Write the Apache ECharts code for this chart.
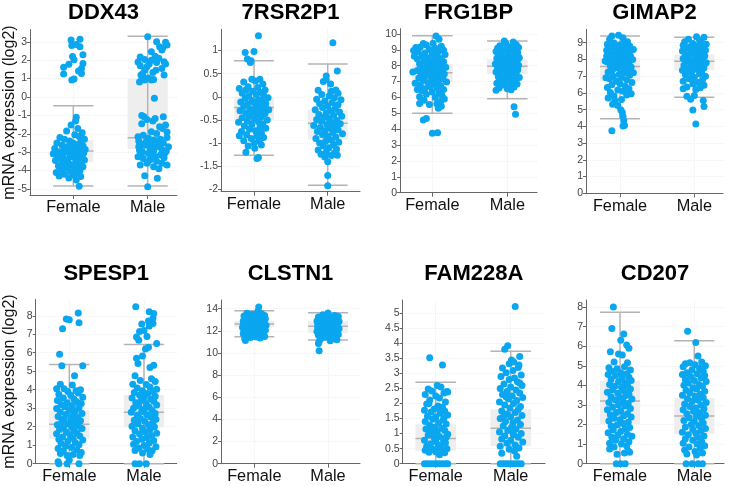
<!DOCTYPE html>
<html><head><meta charset="utf-8">
<script src="https://cdn.jsdelivr.net/npm/echarts@6/dist/echarts.min.js"></script>
<style>html,body{margin:0;padding:0;background:#fff}#c{width:731px;height:486px}</style>
</head><body><div id="c"></div>
<script>
// ---------------- DATA ----------------
const categories = ['Female', 'Male'];
const genes = ['DDX43', '7RSR2P1', 'FRG1BP', 'GIMAP2', 'SPESP1', 'CLSTN1', 'FAM228A', 'CD207'];
const yLabel = 'mRNA expression (log2)';

// tick values per panel
const DDX43_ticks = [-5, -4, -3, -2, -1, 0, 1, 2, 3];
const R7RSR2P1_ticks = [-2, -1.5, -1, -0.5, 0, 0.5, 1];
const FRG1BP_ticks = [0, 1, 2, 3, 4, 5, 6, 7, 8, 9, 10];
const GIMAP2_ticks = [0, 1, 2, 3, 4, 5, 6, 7, 8, 9];
const SPESP1_ticks = [0, 1, 2, 3, 4, 5, 6, 7, 8];
const CLSTN1_ticks = [0, 2, 4, 6, 8, 10, 12, 14];
const FAM228A_ticks = [0, 0.5, 1, 1.5, 2, 2.5, 3, 3.5, 4, 4.5, 5];
const CD207_ticks = [0, 1, 2, 3, 4, 5, 6, 7, 8];

// box statistics [min, q1, median, q3, max] for Female, Male
const DDX43_box = [[-4.84, -3.55, -2.94, -2.34, -0.48], [-4.84, -2.83, -2.22, 1.0, 3.3]];
const R7RSR2P1_box = [[-1.26, -0.5, -0.23, 0.0, 0.78], [-1.91, -0.92, -0.57, -0.28, 0.71]];
const FRG1BP_box = [[5.0, 6.94, 7.56, 8.1, 9.89], [5.92, 7.48, 7.96, 8.4, 9.56]];
const GIMAP2_box = [[4.46, 6.68, 7.57, 8.07, 9.4], [5.74, 7.35, 7.89, 8.3, 9.32]];
const SPESP1_box = [[0, 1.32, 2.13, 2.88, 5.37], [0, 1.97, 2.78, 3.71, 6.45]];
const CLSTN1_box = [[11.47, 12.32, 12.62, 12.89, 13.82], [11.17, 11.8, 12.42, 12.85, 13.64]];
const FAM228A_box = [[0, 0.43, 0.84, 1.31, 2.71], [0, 0.59, 1.18, 1.81, 3.74]];
const CD207_box = [[0, 2.03, 3.2, 4.24, 7.74], [0, 1.52, 2.43, 3.35, 6.28]];

// points: [jitter offset from category, value]
const DDX43_F = [[-0.03,3.1],[0.09,3.14],[-0.02,2.8],[0.04,2.86],[0.09,2.73],[0.13,2.3],[-0.01,2.2],[0.01,2.02],[-0.06,1.78],[-0.13,1.62],[0.13,1.82],[0.11,1.55],[0.07,1.42],[-0.13,1.25],[0.11,1.28],[-0.02,0.92],[0.01,0.98],
[0.04,-1.1],[0.03,-1.3],[-0.03,-1.52],[0.06,-1.72],[-0.09,-1.85],[0.12,-1.95],[0.02,-2.05],[-0.18,-2.2],[0.08,-2.15],[-0.12,-2.3],[0.15,-2.3],[-0.05,-2.4],[0.1,-2.45],[-0.22,-2.5],[0.0,-2.52],[0.05,-2.6],[-0.15,-2.62],[0.13,-2.65],[-0.08,-2.7],[0.09,-2.75],[-0.25,-2.8],[-0.02,-2.82],[0.16,-2.85],[-0.12,-2.9],[0.04,-2.92],[-0.19,-2.98],[0.1,-3.0],[-0.06,-3.02],[0.14,-3.05],[-0.27,-3.08],[0.0,-3.1],[-0.14,-3.12],[0.07,-3.15],[-0.21,-3.2],[0.12,-3.2],[-0.04,-3.25],[0.02,-3.3],[-0.17,-3.32],[0.09,-3.35],[-0.1,-3.4],[0.15,-3.42],[-0.24,-3.45],[0.04,-3.5],[-0.07,-3.55],[0.11,-3.58],[-0.15,-3.62],[-0.02,-3.68],[0.07,-3.72],[-0.2,-3.75],[0.13,-3.8],[-0.09,-3.85],[0.02,-3.9],[-0.16,-3.95],[0.09,-4.0],[-0.04,-4.05],[-0.23,-4.1],[0.06,-4.12],[-0.12,-4.2],[0.01,-4.25],[-0.19,-4.3],[0.1,-4.32],[-0.06,-4.4],[0.04,-4.52],[0.08,-4.85]];
const DDX43_M = [[0.0,3.27],[0.12,3.0],[0.24,2.98],[0.26,2.83],[0.16,2.73],[0.19,2.55],[0.05,2.46],[0.1,2.22],[-0.1,2.18],[-0.04,2.04],[0.05,2.0],[0.22,1.91],[0.12,1.88],[-0.13,1.9],[-0.1,1.7],[-0.01,1.64],[-0.04,1.46],[0.11,1.46],[0.07,1.33],[0.19,1.55],[0.24,1.79],[-0.09,1.19],[-0.06,1.1],[0.01,1.03],[-0.11,0.82],[-0.04,0.92],[0.05,0.92],[0.08,0.95],[-0.08,0.95],[0.09,-0.07],[0.2,2.65],[0.15,2.1],[-0.07,1.25],[0.02,1.8],[0.22,1.2],
[-0.08,-1.0],[-0.05,-1.08],[-0.01,-1.22],[0.1,-1.17],[0.21,-1.08],[0.24,-1.53],[0.2,-1.71],[0.16,-1.62],[0.05,-1.89],[0.12,-1.98],[0.26,-1.9],[-0.13,-2.16],[-0.06,-2.08],[0.01,-2.25],[0.08,-2.34],[0.17,-2.3],[0.26,-2.2],[-0.1,-2.53],[-0.04,-2.62],[0.05,-2.6],[0.12,-2.71],[0.21,-2.5],[0.28,-2.7],[-0.11,-2.89],[-0.07,-2.98],[0.01,-3.07],[0.08,-2.95],[0.17,-3.16],[0.23,-3.05],[-0.13,-3.25],[-0.06,-3.34],[0.03,-3.43],[0.12,-3.5],[0.19,-3.61],[-0.1,-3.7],[-0.01,-3.6],[0.08,-3.79],[0.26,-3.7],[-0.04,-4.28],[0.13,-4.42],[0.0,-4.88],[-0.12,-2.4],[0.14,-2.45],[0.03,-2.8],[0.19,-2.85],[-0.02,-2.42],[0.1,-3.25],[-0.09,-3.1],[0.22,-3.3],[0.06,-3.2],[-0.12,-2.7],[0.16,-2.55],[0.25,-2.95],[0.0,-3.55],[0.15,-3.9],[-0.08,-1.45],[0.07,-1.3]];

const R7RSR2P1_F = [[0.06,1.32],[-0.12,0.96],[0.0,0.98],[-0.09,0.82],[-0.04,0.78],[-0.05,0.74],[-0.03,0.38],[0.08,0.38],[-0.14,0.32],[0.02,0.34],[0.12,0.28],[-0.08,0.22],[0.05,0.2],[0.15,0.15],[-0.11,0.15],[-0.2,0.18],[-0.02,0.12],[0.09,0.1],[-0.16,0.08],[0.03,0.05],[0.13,0.03],[-0.07,0.02],[0.19,-0.02],[-0.12,-0.03],[0.06,-0.06],[-0.03,-0.08],[0.11,-0.1],[-0.18,-0.11],[0.0,-0.13],[0.16,-0.15],[-0.09,-0.16],[0.07,-0.19],[-0.14,-0.21],[0.03,-0.23],[0.13,-0.25],[-0.05,-0.27],[0.2,-0.28],[-0.19,-0.3],[0.08,-0.31],[-0.01,-0.33],[-0.11,-0.35],[0.15,-0.36],[0.04,-0.39],[-0.07,-0.41],[0.1,-0.43],[-0.16,-0.45],[0.0,-0.47],[0.18,-0.5],[-0.09,-0.52],[0.06,-0.54],[-0.21,-0.55],[0.12,-0.58],[-0.03,-0.6],[-0.13,-0.63],[0.08,-0.65],[0.16,-0.68],[-0.06,-0.7],[0.02,-0.73],[-0.17,-0.75],[0.1,-0.78],[-0.1,-0.82],[0.04,-0.85],[-0.2,-0.84],[0.13,-0.88],[-0.04,-0.9],[-0.14,-0.95],[0.07,-0.96],[0.0,-1.0],[0.1,-1.04],[-0.08,-1.06],[0.01,-1.11],[-0.11,-1.2],[0.06,-1.31],[0.04,-1.33]];
const R7RSR2P1_M = [[0.07,1.17],[0.13,0.56],[-0.02,0.45],[-0.02,0.37],[-0.06,0.33],[0.04,0.28],[-0.13,0.14],[0.11,0.15],[0.05,0.12],[0.14,0.08],[-0.08,0.05],[0.02,0.02],[0.09,-0.02],[-0.15,-0.05],[0.18,-0.06],[-0.04,-0.09],[0.06,-0.12],[-0.11,-0.15],[0.14,-0.17],[0.0,-0.2],[-0.07,-0.23],[0.1,-0.25],[-0.17,-0.28],[0.04,-0.3],[0.16,-0.33],[-0.02,-0.35],[-0.12,-0.38],[0.08,-0.4],[0.19,-0.42],[-0.05,-0.44],[0.02,-0.47],[-0.15,-0.49],[0.12,-0.51],[-0.08,-0.53],[0.06,-0.56],[0.17,-0.58],[-0.01,-0.6],[-0.19,-0.62],[0.09,-0.64],[-0.1,-0.66],[0.03,-0.68],[0.14,-0.71],[-0.04,-0.73],[-0.14,-0.75],[0.07,-0.77],[0.2,-0.8],[-0.07,-0.82],[0.0,-0.85],[0.11,-0.87],[-0.16,-0.9],[0.05,-0.93],[-0.03,-0.96],[0.15,-0.98],[-0.11,-1.0],[0.08,-1.03],[-0.06,-1.06],[0.02,-1.1],[0.12,-1.13],[-0.13,-1.15],[-0.02,-1.19],[0.09,-1.22],[-0.09,-1.24],[0.05,-1.27],[0.13,-1.26],[-0.04,-1.3],[0.0,-1.4],[0.0,-1.7],[0.0,-1.92]];

const FRG1BP_F = [[0.05,9.87],[0.09,9.66],[-0.12,9.4],[0.01,9.42],[-0.08,9.3],[0.12,9.22],[-0.16,9.18],[0.04,9.1],[-0.04,9.02],[0.15,8.98],[-0.19,8.9],[0.08,8.88],[-0.1,8.8],[0.0,8.75],[0.17,8.7],[-0.14,8.62],[0.06,8.58],[-0.06,8.5],[0.12,8.45],[-0.2,8.42],[0.02,8.36],[-0.11,8.3],[0.15,8.25],[0.07,8.2],[-0.03,8.15],[-0.17,8.1],[0.1,8.05],[0.0,7.98],[-0.08,7.95],[0.18,7.9],[-0.13,7.86],[0.05,7.82],[-0.02,7.78],[0.13,7.72],[-0.2,7.7],[-0.07,7.65],[0.08,7.6],[0.02,7.55],[-0.15,7.5],[0.16,7.47],[-0.04,7.42],[0.1,7.38],[-0.1,7.32],[0.04,7.28],[-0.18,7.22],[0.14,7.18],[-0.01,7.12],[-0.12,7.08],[0.07,7.02],[0.19,6.98],[-0.06,6.92],[0.02,6.86],[-0.16,6.8],[0.11,6.75],[-0.03,6.68],[0.06,6.62],[-0.1,6.55],[0.15,6.5],[-0.14,6.42],[0.0,6.35],[0.09,6.28],[-0.08,6.2],[0.13,6.12],[-0.17,6.05],[0.04,6.0],[0.16,5.9],[-0.11,5.82],[0.11,5.75],[-0.17,5.62],[0.06,5.6],[0.12,5.45],[0.08,5.32],[-0.04,5.55],[-0.08,4.68],[-0.12,4.58],[0.0,3.74],[0.07,3.78],[-0.22,9.15],[-0.25,8.95],[-0.24,8.6],[-0.26,7.6],[-0.23,6.9],[-0.2,6.5]];
const FRG1BP_M = [[-0.04,9.55],[0.08,9.5],[-0.02,9.4],[0.12,9.32],[-0.1,9.25],[0.03,9.2],[0.15,9.15],[-0.13,9.1],[0.06,9.05],[-0.05,9.0],[0.1,8.95],[-0.15,8.9],[0.01,8.85],[0.14,8.8],[-0.08,8.75],[0.05,8.7],[-0.12,8.65],[0.11,8.6],[-0.02,8.55],[0.16,8.5],[-0.14,8.45],[0.07,8.42],[-0.06,8.38],[0.02,8.32],[0.13,8.28],[-0.11,8.24],[0.09,8.2],[-0.03,8.15],[-0.16,8.1],[0.04,8.06],[0.15,8.02],[-0.08,7.98],[0.0,7.94],[0.1,7.9],[-0.13,7.86],[0.06,7.82],[-0.04,7.78],[0.14,7.74],[-0.1,7.7],[0.02,7.66],[-0.15,7.6],[0.08,7.56],[-0.01,7.5],[0.12,7.45],[-0.07,7.4],[0.04,7.35],[-0.12,7.3],[0.16,7.25],[0.0,7.2],[-0.09,7.14],[0.1,7.08],[-0.03,7.02],[0.06,6.95],[-0.14,6.9],[0.13,6.85],[-0.06,6.78],[0.03,6.72],[0.09,6.65],[-0.11,6.6],[0.0,6.55],[-0.15,6.45],[0.05,6.48],[0.09,5.42],[0.11,4.94]];

const GIMAP2_F = [[-0.11,9.4],[-0.02,9.45],[0.04,9.3],[-0.14,9.2],[0.1,9.05],[0.05,9.0],[-0.08,8.98],[-0.17,8.9],[0.0,8.88],[0.13,8.8],[-0.12,8.75],[0.07,8.7],[-0.05,8.65],[0.16,8.6],[-0.18,8.55],[0.02,8.52],[-0.09,8.45],[0.11,8.4],[-0.02,8.35],[0.06,8.3],[-0.15,8.28],[0.14,8.22],[-0.06,8.18],[0.01,8.12],[0.09,8.08],[-0.12,8.05],[0.17,8.0],[-0.03,7.95],[0.05,7.9],[-0.17,7.85],[0.12,7.8],[-0.08,7.75],[0.0,7.7],[0.08,7.65],[-0.13,7.6],[0.15,7.55],[-0.04,7.5],[0.03,7.45],[-0.1,7.38],[0.11,7.32],[-0.16,7.25],[0.06,7.2],[-0.01,7.12],[0.13,7.05],[-0.09,7.0],[0.02,6.92],[-0.14,6.85],[0.09,6.78],[-0.05,6.7],[0.16,6.62],[0.0,6.55],[-0.11,6.48],[0.07,6.4],[-0.17,6.32],[0.12,6.25],[-0.03,6.18],[0.04,6.1],[-0.13,6.02],[0.15,5.95],[0.09,5.88],[-0.08,5.82],[-0.16,5.7],[0.02,5.6],[-0.07,5.55],[-0.1,5.32],[-0.03,5.25],[0.01,5.0],[0.03,4.85],[0.04,4.6],[0.05,4.35],[0.06,4.05],[0.04,4.02],[-0.11,3.74],[-0.2,7.9],[0.18,8.6],[-0.19,6.9],[0.18,7.2],[-0.18,8.2]];
const GIMAP2_M = [[0.03,9.36],[0.13,9.32],[-0.08,9.2],[0.07,9.15],[-0.13,9.05],[0.1,9.0],[-0.02,8.95],[0.16,8.9],[-0.15,8.85],[0.04,8.8],[-0.06,8.75],[0.12,8.7],[-0.11,8.65],[0.0,8.6],[0.15,8.55],[-0.16,8.5],[0.07,8.45],[-0.04,8.4],[0.1,8.35],[-0.12,8.3],[0.02,8.25],[0.14,8.2],[-0.08,8.15],[0.05,8.1],[-0.15,8.05],[-0.01,8.0],[0.11,7.95],[-0.1,7.9],[0.06,7.85],[0.16,7.8],[-0.05,7.75],[0.02,7.7],[-0.14,7.65],[0.09,7.6],[-0.02,7.55],[0.13,7.5],[-0.09,7.45],[0.04,7.4],[-0.16,7.35],[0.1,7.3],[-0.04,7.22],[0.07,7.15],[-0.12,7.08],[0.15,7.0],[0.0,6.92],[-0.07,6.85],[0.11,6.78],[-0.15,6.7],[0.05,6.62],[-0.02,6.55],[0.13,6.45],[-0.1,6.35],[0.08,6.3],[-0.15,6.25],[0.02,6.2],[-0.1,5.8],[0.0,5.85],[-0.05,5.62],[0.12,5.55],[-0.02,4.98],[0.13,5.18],[0.02,4.14]];

const SPESP1_F = [[0.12,8.15],[-0.04,7.82],[0.0,7.78],[0.13,7.62],[-0.09,7.3],[-0.13,5.92],[-0.1,5.3],[0.18,5.3],[0.07,4.75],[-0.12,4.3],[0.04,4.25],[-0.17,4.05],[-0.07,4.05],[0.15,4.0],[0.09,3.95],[-0.02,3.9],[0.12,3.82],[-0.14,3.75],[0.02,3.7],[0.18,3.6],[-0.08,3.55],[0.06,3.5],[-0.16,3.42],[0.1,3.35],[-0.03,3.3],[0.16,3.25],[-0.11,3.2],[0.04,3.15],[-0.06,3.08],[0.13,3.02],[-0.17,2.98],[0.0,2.92],[0.08,2.85],[-0.12,2.8],[0.17,2.72],[-0.04,2.68],[0.05,2.6],[-0.15,2.55],[0.11,2.5],[-0.07,2.45],[0.02,2.38],[0.15,2.32],[-0.1,2.28],[0.07,2.22],[-0.02,2.15],[-0.16,2.1],[0.12,2.05],[0.03,2.0],[-0.08,1.95],[0.17,1.9],[-0.13,1.85],[0.06,1.78],[-0.04,1.72],[0.1,1.68],[-0.17,1.62],[0.01,1.55],[0.14,1.5],[-0.09,1.45],[0.05,1.38],[-0.14,1.32],[0.18,1.28],[-0.02,1.22],[0.08,1.15],[-0.11,1.1],[0.13,1.02],[-0.05,0.95],[0.03,0.88],[-0.15,0.82],[0.1,0.75],[-0.08,0.68],[0.16,0.6],[-0.12,0.55],[0.05,0.5],[0.14,0.45],[-0.03,0.45],[-0.15,0.1],[0.0,0.2],[-0.14,0],[-0.03,0],[0.13,0]];
const SPESP1_M = [[-0.11,8.49],[0.07,8.22],[0.13,8.12],[0.12,7.86],[0.06,7.72],[0.12,7.58],[-0.03,7.55],[0.07,7.45],[-0.06,7.15],[0.0,7.2],[-0.1,6.85],[0.04,6.88],[-0.07,6.68],[0.17,6.5],[0.06,6.3],[0.02,6.2],[-0.1,5.7],[-0.02,5.82],[-0.08,5.42],[0.13,5.32],[0.08,5.2],[-0.12,4.75],[0.1,4.6],[-0.05,4.5],[0.15,4.45],[-0.15,4.3],[0.03,4.28],[0.08,4.15],[-0.09,4.1],[0.17,4.02],[-0.02,3.95],[0.12,3.9],[-0.13,3.85],[0.05,3.8],[-0.06,3.72],[0.15,3.65],[0.0,3.6],[-0.16,3.55],[0.09,3.5],[-0.04,3.42],[0.13,3.38],[-0.11,3.3],[0.03,3.25],[0.17,3.18],[-0.07,3.12],[0.07,3.05],[-0.14,3.0],[0.0,2.95],[0.11,2.88],[-0.03,2.82],[-0.17,2.78],[0.15,2.72],[0.04,2.65],[-0.09,2.6],[0.09,2.52],[-0.05,2.45],[0.16,2.4],[-0.13,2.35],[0.01,2.3],[0.12,2.22],[-0.08,2.15],[0.06,2.1],[-0.16,2.02],[0.14,1.98],[-0.02,1.92],[0.08,1.85],[-0.12,1.78],[0.02,1.72],[0.17,1.65],[-0.06,1.6],[0.1,1.52],[-0.15,1.45],[0.04,1.4],[-0.03,1.32],[0.13,1.25],[-0.1,1.2],[0.07,1.12],[-0.14,1.05],[0.0,0.98],[0.16,0.92],[-0.07,0.85],[0.05,0.78],[-0.12,0.72],[0.11,0.7],[-0.02,0.58],[0.08,0.5],[-0.12,0],[-0.06,0],[0.03,0]];

const CLSTN1_F = [[0.06,14.15],[0.05,13.8],[-0.1,13.6],[0.1,13.55],[-0.03,13.5],[0.14,13.4],[-0.14,13.35],[0.02,13.3],[-0.07,13.25],[0.08,13.2],[-0.12,13.12],[0.15,13.1],[0.0,13.05],[-0.05,12.98],[0.11,12.95],[-0.15,12.9],[0.05,12.85],[-0.09,12.8],[0.13,12.75],[-0.01,12.72],[0.08,12.65],[-0.13,12.62],[0.03,12.58],[-0.06,12.52],[0.16,12.5],[0.1,12.45],[-0.11,12.42],[0.0,12.38],[-0.16,12.3],[0.07,12.3],[0.13,12.22],[-0.04,12.2],[-0.1,12.12],[0.04,12.1],[0.15,12.05],[-0.14,12.0],[0.01,11.95],[0.09,11.9],[-0.07,11.85],[-0.15,11.75],[0.12,11.72],[-0.02,11.7],[0.05,11.6],[-0.11,11.55],[0.14,11.5],[-0.05,11.4],[0.03,11.45],[-0.13,11.3],[0.08,11.35],[-0.12,11.12],[0.11,12.85],[-0.03,12.05],[0.06,13.0],[-0.08,12.35],[0.12,11.95],[-0.15,12.55],[0.02,13.45]];
const CLSTN1_M = [[0.0,13.62],[-0.07,13.45],[0.09,13.4],[0.14,13.3],[-0.13,13.25],[0.03,13.2],[-0.03,13.12],[0.1,13.05],[-0.1,13.0],[0.06,12.95],[-0.15,12.9],[0.15,12.85],[0.0,12.8],[-0.06,12.72],[0.11,12.68],[-0.12,12.62],[0.04,12.58],[-0.02,12.5],[0.13,12.45],[-0.09,12.42],[0.07,12.35],[-0.14,12.3],[0.01,12.25],[0.15,12.2],[-0.05,12.15],[0.09,12.1],[-0.11,12.05],[0.03,12.0],[-0.15,11.95],[0.12,11.9],[-0.01,11.85],[0.06,11.78],[-0.08,11.72],[0.14,11.68],[-0.13,11.6],[0.02,11.55],[0.1,11.48],[-0.05,11.42],[0.07,11.32],[-0.1,11.3],[0.12,11.2],[0.03,11.1],[-0.12,11.05],[-0.13,10.85],[-0.12,10.2],[0.05,12.9],[-0.04,12.3],[0.08,11.95],[-0.08,13.1],[0.12,12.62],[-0.14,12.6]];

const FAM228A_F = [[-0.08,3.52],[0.09,3.28],[0.02,2.6],[0.07,2.55],[-0.1,2.48],[0.15,2.4],[0.16,2.38],[-0.05,2.42],[0.11,2.35],[-0.14,2.3],[0.0,2.25],[0.05,2.18],[-0.08,2.12],[0.13,2.05],[-0.12,1.98],[0.03,1.92],[0.09,1.88],[-0.02,1.82],[-0.15,1.78],[0.12,1.75],[-0.06,1.72],[0.06,1.68],[0.16,1.62],[-0.11,1.58],[0.0,1.55],[-0.04,1.48],[0.1,1.45],[-0.14,1.4],[0.04,1.36],[0.14,1.32],[-0.08,1.28],[-0.01,1.22],[0.08,1.18],[-0.13,1.15],[0.12,1.1],[0.02,1.06],[-0.06,1.02],[0.16,0.98],[-0.1,0.95],[0.05,0.9],[-0.02,0.86],[0.1,0.82],[-0.15,0.78],[0.0,0.74],[0.13,0.7],[-0.07,0.66],[0.07,0.62],[-0.12,0.58],[0.03,0.55],[0.15,0.5],[-0.04,0.48],[-0.14,0.45],[0.09,0.44],[0.0,0.4],[-0.09,0.38],[0.12,0.36],[0.05,0.3],[-0.15,0],[-0.11,0],[-0.07,0],[-0.03,0],[0.01,0],[0.05,0],[0.09,0],[0.13,0],[0.16,0],[0.06,1.8],[-0.09,2.0],[0.11,1.52],[-0.05,1.1],[0.14,0.88]];
const FAM228A_M = [[0.06,5.22],[-0.08,3.8],[-0.04,3.92],[0.12,3.56],[0.01,3.45],[0.04,3.38],[-0.02,3.32],[0.11,3.28],[0.1,3.2],[-0.11,3.18],[0.03,3.1],[-0.06,3.02],[0.14,2.95],[-0.13,2.9],[0.05,2.85],[-0.02,2.8],[0.09,2.72],[-0.09,2.65],[0.15,2.6],[0.0,2.55],[-0.14,2.5],[0.07,2.45],[-0.05,2.4],[0.12,2.35],[-0.11,2.3],[0.02,2.25],[0.16,2.2],[-0.03,2.15],[0.08,2.1],[-0.15,2.05],[0.04,2.0],[-0.08,1.95],[0.13,1.9],[-0.01,1.85],[0.1,1.8],[-0.12,1.75],[0.06,1.7],[-0.05,1.65],[0.15,1.6],[0.0,1.55],[-0.14,1.5],[0.09,1.45],[-0.07,1.4],[0.03,1.35],[0.13,1.3],[-0.1,1.25],[0.01,1.2],[0.07,1.15],[-0.04,1.1],[-0.15,1.05],[0.14,1.0],[0.04,0.96],[-0.08,0.92],[0.1,0.88],[-0.12,0.82],[0.0,0.78],[0.16,0.72],[-0.05,0.68],[0.06,0.62],[-0.14,0.58],[0.11,0.52],[-0.02,0.48],[0.05,0.42],[-0.12,0.35],[0.08,0.25],[-0.14,0],[-0.1,0],[-0.06,0],[-0.02,0],[0.02,0],[0.06,0],[0.1,0],[0.14,0],[-0.09,1.6],[0.12,2.68],[-0.06,2.22],[0.03,1.02]];

const CD207_F = [[-0.09,8.0],[-0.11,6.9],[0.05,6.62],[0.01,6.3],[0.09,6.06],[-0.13,5.72],[0.12,5.9],[-0.02,5.6],[0.03,5.55],[-0.08,5.2],[0.1,5.15],[-0.15,4.9],[0.06,4.95],[-0.04,4.85],[0.14,4.78],[-0.11,4.72],[0.01,4.65],[0.09,4.6],[-0.16,4.55],[-0.06,4.5],[0.12,4.42],[0.03,4.38],[-0.12,4.3],[0.15,4.25],[-0.02,4.2],[0.07,4.12],[-0.14,4.05],[0.1,4.0],[-0.07,3.95],[0.02,3.9],[0.14,3.82],[-0.1,3.78],[0.05,3.72],[-0.17,3.65],[-0.03,3.6],[0.12,3.55],[0.08,3.48],[-0.12,3.42],[0.0,3.38],[0.16,3.3],[-0.06,3.25],[0.04,3.2],[-0.15,3.12],[0.11,3.08],[-0.02,3.0],[0.07,2.95],[-0.1,2.88],[0.14,2.82],[-0.17,2.75],[0.01,2.7],[-0.05,2.62],[0.1,2.55],[-0.13,2.5],[0.05,2.45],[0.15,2.38],[-0.08,2.32],[0.0,2.25],[-0.15,2.18],[0.11,2.12],[0.04,2.05],[-0.04,1.98],[-0.12,1.92],[0.13,1.85],[0.07,1.78],[-0.09,1.72],[0.01,1.65],[-0.16,1.58],[0.1,1.5],[-0.03,1.45],[0.16,1.4],[-0.11,1.35],[0.05,1.28],[-0.06,1.2],[0.12,1.12],[-0.14,1.05],[0.02,1.0],[0.09,0.9],[-0.08,0.85],[-0.14,0.75],[0.11,0.65],[0.06,0.55],[-0.04,0.48],[0.13,0.58],[-0.05,0],[0.01,0],[0.07,0]];
const CD207_M = [[-0.09,6.77],[0.02,6.19],[0.05,5.5],[-0.12,5.1],[-0.06,5.15],[0.1,5.2],[0.15,5.0],[0.01,5.05],[-0.15,4.95],[0.07,4.88],[-0.03,4.8],[0.12,4.72],[-0.1,4.65],[0.04,4.6],[-0.16,4.55],[0.14,4.5],[-0.05,4.45],[0.09,4.38],[-0.12,4.3],[0.0,4.25],[0.16,4.2],[-0.08,4.12],[0.06,4.05],[-0.14,4.0],[0.11,3.95],[-0.02,3.88],[0.03,3.82],[-0.11,3.75],[0.14,3.7],[-0.06,3.62],[0.08,3.55],[-0.16,3.5],[0.01,3.45],[0.12,3.38],[-0.09,3.32],[0.05,3.25],[-0.03,3.18],[0.16,3.12],[-0.13,3.05],[0.09,3.0],[-0.06,2.92],[0.02,2.85],[0.13,2.8],[-0.15,2.75],[-0.01,2.68],[0.07,2.6],[-0.1,2.55],[0.15,2.48],[0.03,2.42],[-0.07,2.35],[0.1,2.28],[-0.14,2.2],[0.0,2.15],[0.12,2.08],[-0.04,2.0],[0.06,1.95],[-0.12,1.88],[0.15,1.8],[-0.02,1.75],[0.09,1.68],[-0.16,1.6],[0.02,1.55],[-0.08,1.48],[0.13,1.42],[0.05,1.35],[-0.12,1.28],[-0.02,1.2],[0.1,1.12],[-0.15,1.05],[0.04,1.0],[0.14,0.92],[-0.07,0.85],[0.08,0.78],[-0.13,0.7],[0.01,0.62],[0.11,0.55],[-0.1,0.5],[0.03,0.45],[-0.11,0],[-0.03,0],[0.05,0],[0.11,0]];

// ---------------- LAYOUT (positions / styles) ----------------
const panels = [
  {g: 0, F: DDX43_F, M: DDX43_M, box: DDX43_box, ticks: DDX43_ticks, grid: [30, 29.5, 147, 165.5], y: [-5.33, 3.67], x: [0.418, 2.394]},
  {g: 1, F: R7RSR2P1_F, M: R7RSR2P1_M, box: R7RSR2P1_box, ticks: R7RSR2P1_ticks, grid: [221, 29.3, 139, 162.4], y: [-2.05, 1.46], x: [0.552, 2.438]},
  {g: 2, F: FRG1BP_F, M: FRG1BP_M, box: FRG1BP_box, ticks: FRG1BP_ticks, grid: [400, 28.7, 137, 164], y: [0, 10.33], x: [0.569, 2.396]},
  {g: 3, F: GIMAP2_F, M: GIMAP2_M, box: GIMAP2_box, ticks: GIMAP2_ticks, grid: [586, 29.3, 137, 164], y: [0, 9.8], x: [0.542, 2.386]},
  {g: 4, F: SPESP1_F, M: SPESP1_M, box: SPESP1_box, ticks: SPESP1_ticks, grid: [35.7, 299.3, 141, 164.4], y: [0, 8.89], x: [0.55, 2.438]},
  {g: 5, F: CLSTN1_F, M: CLSTN1_M, box: CLSTN1_box, ticks: CLSTN1_ticks, grid: [221, 300, 139, 163.7], y: [0, 14.79], x: [0.548, 2.434]},
  {g: 6, F: FAM228A_F, M: FAM228A_M, box: FAM228A_box, ticks: FAM228A_ticks, grid: [402.7, 300, 142.3, 163.7], y: [0, 5.44], x: [0.56, 2.457]},
  {g: 7, F: CD207_F, M: CD207_M, box: CD207_box, ticks: CD207_ticks, grid: [586, 300, 138, 163.7], y: [0, 8.36], x: [0.542, 2.4]}
];

const FONT = 'Liberation Sans, Arial, sans-serif';
const AXIS_COLOR = '#666';
const POINT_COLOR = '#0AA6F0';
const BOX_FILL = '#eeeeee';
const WHISKER = '#b3b3b3';
const GRIDLINE = '#efefef';
const HALF_W = 0.27;

const grids = [], xAxes = [], yAxes = [], series = [], graphics = [];
panels.forEach((p, i) => {
  const [l, t, w, h] = p.grid;
  grids.push({left: l, top: t, width: w, height: h, containLabel: false});
  xAxes.push({
    type: 'value', gridIndex: i, min: p.x[0], max: p.x[1],
    axisLine: {show: true, onZero: false, lineStyle: {color: AXIS_COLOR, width: 1}},
    axisTick: {show: true, customValues: [1, 2], length: 4, lineStyle: {color: AXIS_COLOR}},
    axisLabel: {customValues: [1, 2], formatter: v => categories[Math.round(v) - 1] || '',
      fontFamily: FONT, fontSize: 16.3, color: '#111', margin: 5},
    splitLine: {show: true, lineStyle: {color: GRIDLINE, type: 'dotted', width: 1}}
  });
  yAxes.push({
    type: 'value', gridIndex: i, min: p.y[0], max: p.y[1],
    axisLine: {show: true, lineStyle: {color: AXIS_COLOR, width: 1}},
    axisTick: {show: true, customValues: p.ticks, length: 3, lineStyle: {color: AXIS_COLOR}},
    axisLabel: {customValues: p.ticks, fontFamily: FONT, fontSize: 10.5, color: '#444', margin: 3},
    splitLine: {show: true, lineStyle: {color: GRIDLINE, type: 'dotted', width: 1}}
  });
  const boxData = p.box.map((b, k) => [k + 1].concat(b));
  series.push({
    type: 'custom', xAxisIndex: i, yAxisIndex: i, z: 2, silent: true,
    data: boxData,
    renderItem: (params, api) => {
      const x = api.value(0);
      const mn = api.value(1), q1 = api.value(2), md = api.value(3), q3 = api.value(4), mx = api.value(5);
      const a = api.coord([x - HALF_W, q3]);
      const b = api.coord([x + HALF_W, q1]);
      const cTop = api.coord([x, mx]);
      const cBot = api.coord([x, mn]);
      const lm = api.coord([x - HALF_W, md]);
      const rm = api.coord([x + HALF_W, md]);
      const lTop = api.coord([x - HALF_W, mx]);
      const rTop = api.coord([x + HALF_W, mx]);
      const lBot = api.coord([x - HALF_W, mn]);
      const rBot = api.coord([x + HALF_W, mn]);
      const ls = {stroke: WHISKER, lineWidth: 1.5};
      return {type: 'group', children: [
        {type: 'rect', shape: {x: a[0], y: a[1], width: b[0] - a[0], height: b[1] - a[1]}, style: {fill: BOX_FILL}},
        {type: 'line', shape: {x1: cTop[0], y1: cTop[1], x2: cBot[0], y2: cBot[1]}, style: ls},
        {type: 'line', shape: {x1: lTop[0], y1: lTop[1], x2: rTop[0], y2: rTop[1]}, style: ls},
        {type: 'line', shape: {x1: lBot[0], y1: lBot[1], x2: rBot[0], y2: rBot[1]}, style: ls},
        {type: 'line', shape: {x1: lm[0], y1: lm[1], x2: rm[0], y2: rm[1]}, style: ls}
      ]};
    }
  });
  const pts = p.F.map(d => [1 + d[0], d[1]]).concat(p.M.map(d => [2 + d[0], d[1]]));
  series.push({
    type: 'scatter', xAxisIndex: i, yAxisIndex: i, z: 3, silent: true,
    symbolSize: 7, itemStyle: {color: POINT_COLOR, opacity: 1}, data: pts
  });
  graphics.push({type: 'text', x: l + w / 2, y: i < 4 ? 12.5 : 273.5, z: 10,
    style: {text: genes[p.g], fontFamily: FONT, fontWeight: 'bold', fontSize: 22, fill: '#000', align: 'center', verticalAlign: 'middle'}});
});
[112.5, 381.5].forEach(cy => {
  graphics.push({type: 'text', x: 10, y: cy, rotation: Math.PI / 2, z: 10,
    style: {text: yLabel, fontFamily: FONT, fontSize: 16, fill: '#111', align: 'center', verticalAlign: 'middle'}});
});

const chart = echarts.init(document.getElementById('c'), null, {renderer: 'canvas'});
chart.setOption({
  animation: false,
  backgroundColor: '#fff',
  grid: grids, xAxis: xAxes, yAxis: yAxes, series: series, graphic: graphics
});
</script></body></html>
